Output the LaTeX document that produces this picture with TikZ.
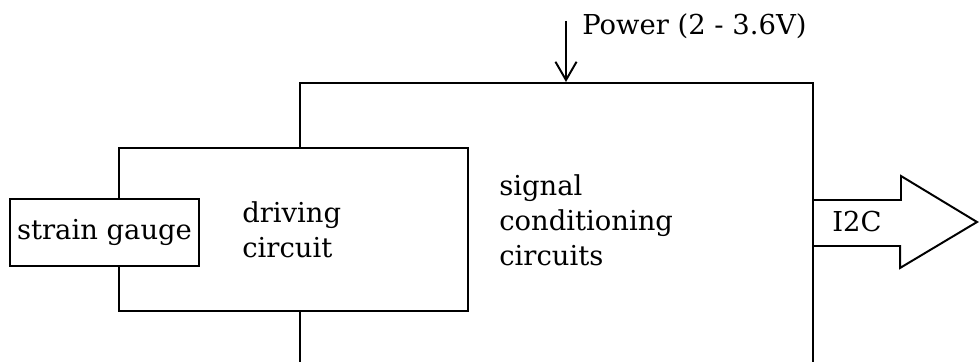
\documentclass[tikz,border=0pt]{standalone}
\usepackage{fontspec}
\setmainfont{DejaVu Serif}
\usetikzlibrary{arrows.meta}

\tikzset{
    block/.style={draw, fill=white, line width=1.4pt, inner sep=0pt},
    label text/.style={font=\fontsize{19.5}{25}\selectfont, align=left, inner sep=0pt},
}

\begin{document}
\begin{tikzpicture}[x=0.25mm, y=-0.25mm]
    \useasboundingbox (0,0) rectangle (979,361);
    \clip (0,0) rectangle (979,361);

    % boxes, back to front
    \node [block, minimum width=128.25mm, minimum height=84.25mm]
        (cond) at (556.5,251.5) {};
    \node [block, minimum width=87.25mm, minimum height=40.75mm]
        (drive) at (293.5,229.5) {};
    \node [block, label text, minimum width=47.25mm, minimum height=16.75mm]
        (gauge) at (104.5,232.5) {strain gauge};

    \node [label text, anchor=west] (drivetext) at (242,230) {driving\\circuit};
    \node [label text, anchor=west] (condtext) at (499,220)
        {signal\\conditioning\\circuits};

    % supply
    \node [label text, anchor=west] (power) at (582,26) {Power (2 - 3.6V)};
    \coordinate (supply) at (566,21);
    \draw [line width=1.4pt, -{Straight Barb[length=13pt,width=15pt]}]
        (supply) -- (supply |- cond.north);

    % bus output
    \coordinate (tip) at (977,222);
    \draw [line width=1.4pt]
        (cond.east |- tip) ++(0,-22)
        -- ++(87,0)
        -- ++(0,-24)
        -- (tip)
        -- ++(-77,46)
        -- ++(0,-22)
        -- ++(-87,0)
        ;
    \node [label text] (bus) at (857,222) {I2C};
\end{tikzpicture}
\end{document}
